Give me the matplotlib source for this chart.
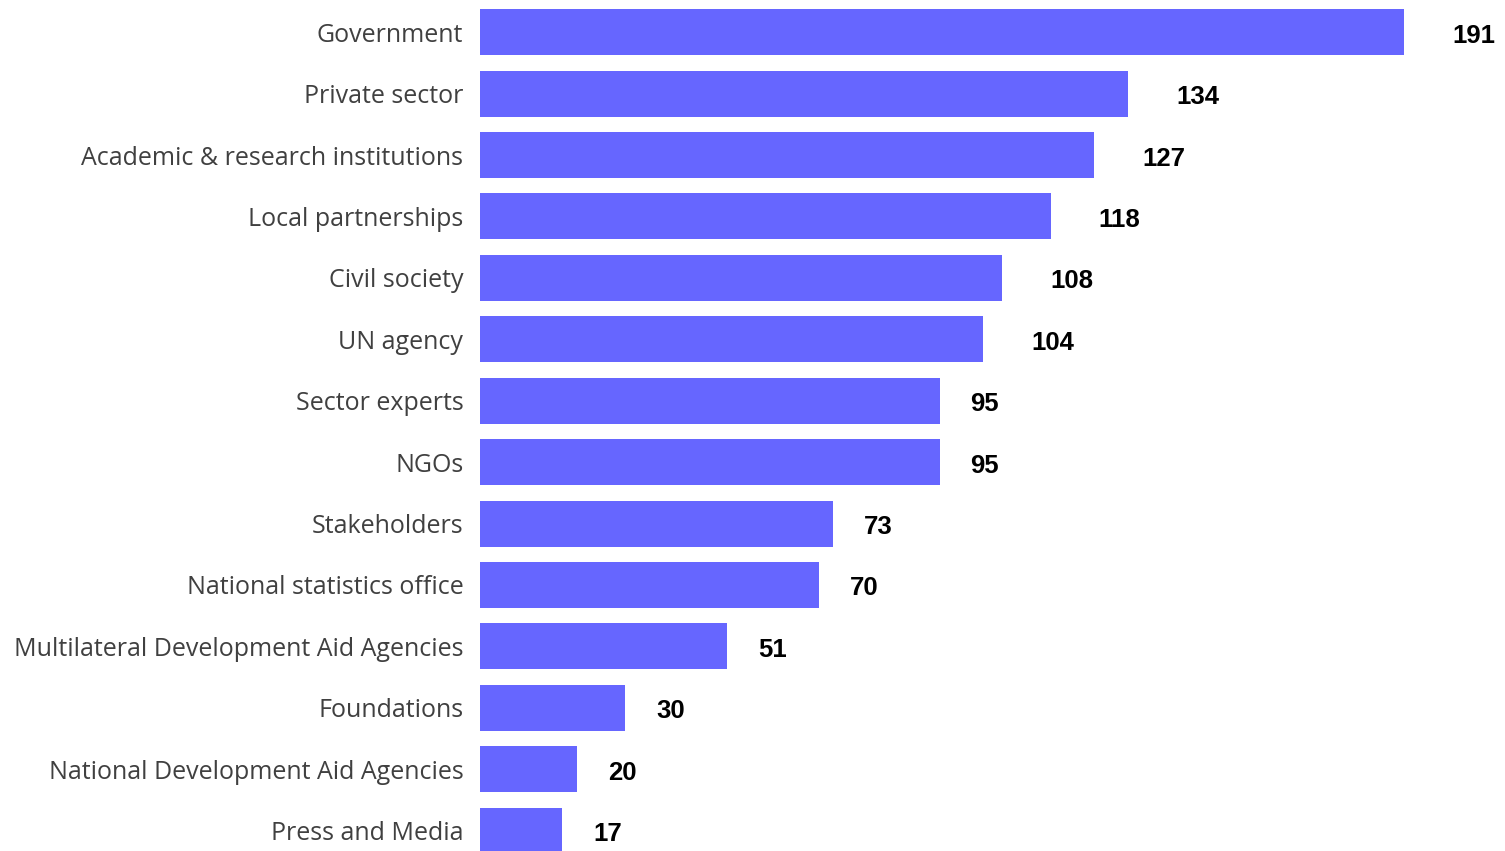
import numpy as np
import matplotlib
matplotlib.use('Agg')
import matplotlib.pyplot as plt

categories = ['Government', 'Private sector', 'Academic & research institutions',
              'Local partnerships', 'Civil society', 'UN agency', 'Sector experts',
              'NGOs', 'Stakeholders', 'National statistics office',
              'Multilateral Development Aid Agencies', 'Foundations',
              'National Development Aid Agencies', 'Press and Media']
counts = [191, 134, 127, 118, 108, 104, 95, 95, 73, 70, 51, 30, 20, 17]

W, H = 1505, 851
fig = plt.figure(figsize=(W / 100, H / 100), dpi=100)

# bars start at x=480px, 191 ends at ~1404px
x0, x191 = 480, 1404
ax = fig.add_axes([x0 / W, 0, (W - x0) / W, 1])
ax.set_xlim(0, 191 * (W - x0) / (x191 - x0))

pitch = 61.42
top_c = 32.2
ax.set_ylim(13 + (H - (top_c + 13 * pitch)) / pitch, -top_c / pitch)

y = np.arange(len(categories))
ax.barh(y, counts, height=46 / pitch, color='#6666FF', edgecolor='none')

for yi, v in zip(y, counts):
    # labels sit further out for 3-digit numbers in the original
    dx = (31 + 17 * (len(str(v)) - 2)) * 0.72
    ax.annotate(str(v), (v, yi), xytext=(dx, -2.5), textcoords='offset points',
                ha='left', va='center', fontsize=18.5, fontweight='bold',
                family='Liberation Sans', color='black')

ax.set_yticks(y)
ax.set_yticklabels(categories, fontsize=18, color='#404040', family='Open Sans')
ax.tick_params(axis='y', length=0, pad=12)
ax.set_xticks([])
for s in ax.spines.values():
    s.set_visible(False)

fig.savefig('out.png', dpi=100)
